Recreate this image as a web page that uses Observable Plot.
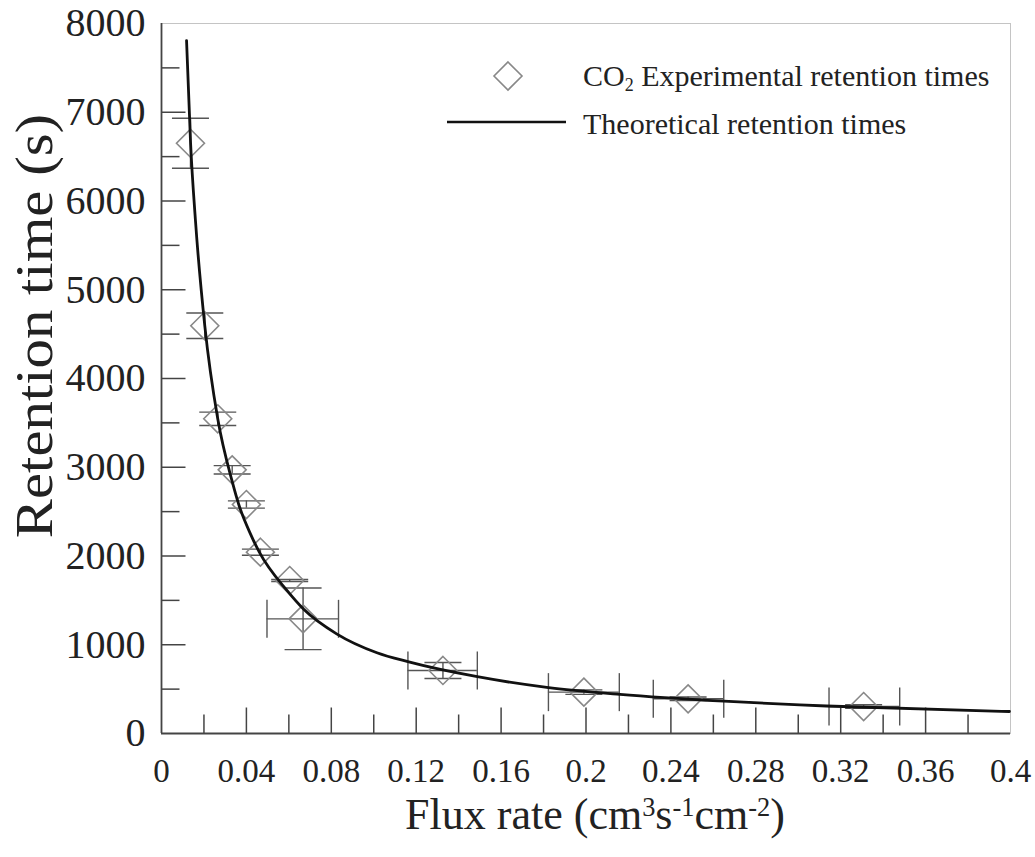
<!DOCTYPE html>
<html>
<head>
<meta charset="utf-8">
<script src="https://cdn.jsdelivr.net/npm/d3@7"></script>
<script src="https://cdn.jsdelivr.net/npm/@observablehq/plot@0.6"></script>
<style>
  body { margin: 0; background: #fff; }
  #wrap { position: relative; width: 1035px; height: 857px; font-family: "Liberation Serif", "Times New Roman", serif; color: #222; }
  #wrap svg { position: absolute; left: 0; top: 0; }
  .ovl { position: absolute; white-space: nowrap; line-height: 1; }
  #xtitle { left: 595px; top: 815px; font-size: 44px; transform: translate(-50%, -50%); }
  #ytitle { left: 35px; top: 326px; font-size: 52px; transform: translate(-50%, -50%) rotate(-90deg) scaleX(1.13); }
  .leg { font-size: 30px; transform: translateY(-50%); }
  sup { font-size: 0.6em; vertical-align: 0.5em; line-height: 0; }
  sub { font-size: 0.6em; vertical-align: -0.3em; line-height: 0; }
</style>
</head>
<body>
<div id="wrap"></div>
<script>
// ---- Experimental points ----
const fluxExp  = [0.01365, 0.0204, 0.0265, 0.0333, 0.0400, 0.0466, 0.0604, 0.0667, 0.1326, 0.1990, 0.2481, 0.3308];
const timeExp  = [6651, 4594, 3546, 2971, 2580, 2043, 1724, 1292, 710, 466, 391, 304];
const timeErr  = [282, 144, 75, 47, 41, 34, 12, 347, 90, 25, 20, 20];
const fluxErrLo = [null, null, null, null, null, null, null, 0.0497, 0.1161, 0.1823, 0.2317, 0.3145];
const fluxErrHi = [null, null, null, null, null, null, null, 0.0834, 0.1488, 0.2157, 0.2649, 0.3478];

// ---- Theoretical curve ----
const fluxTheory = [0.0118, 0.0137, 0.0160, 0.0204, 0.0265, 0.0333, 0.0364, 0.0419, 0.0461, 0.0592, 0.0670, 0.0827, 0.1015, 0.1165, 0.1488, 0.1815, 0.2160, 0.2649, 0.3007, 0.3133, 0.3995];
const timeTheory = [7808, 6651, 5780, 4594, 3546, 2840, 2580, 2250, 2043, 1610, 1400, 1120, 910, 807, 640, 520, 441, 364, 322, 310, 248];

// ---- Ticks ----
const xTickValues = [0, 0.04, 0.08, 0.12, 0.16, 0.2, 0.24, 0.28, 0.32, 0.36, 0.4];
const xTickLabels = ["0", "0.04", "0.08", "0.12", "0.16", "0.2", "0.24", "0.28", "0.32", "0.36", "0.4"];
const xMajorMarks = [0.04, 0.08, 0.12, 0.16, 0.2, 0.24, 0.28, 0.32, 0.36];
const xMinorMarks = [0.02, 0.06, 0.10, 0.14, 0.18, 0.22, 0.26, 0.30, 0.34, 0.38];
const yTickValues = [0, 1000, 2000, 3000, 4000, 5000, 6000, 7000, 8000];
const yTickLabels = ["0", "1000", "2000", "3000", "4000", "5000", "6000", "7000", "8000"];
const yMajorMarks = [1000, 2000, 3000, 4000, 5000, 6000, 7000];
const yMinorMarks = [500, 1500, 2500, 3500, 4500, 5500, 6500, 7500];

// ---- Text ----
const xTitleHTML = "Flux rate (cm<sup>3</sup>s<sup>-1</sup>cm<sup>-2</sup>)";
const yTitleText = "Retention time (s)";
const legendExpHTML = "CO<sub>2</sub> Experimental retention times";
const legendTheoryText = "Theoretical retention times";

// rows built from the arrays
const rows = fluxExp.map((x, i) => ({x, y: timeExp[i], ye: timeErr[i], xlo: fluxErrLo[i], xhi: fluxErrHi[i]}));
const theory = fluxTheory.map((x, i) => ({x, y: timeTheory[i]}));

// custom symbols (pixel-sized caps and inward ticks)
const hCap = {draw(ctx) { ctx.moveTo(-18.5, 0); ctx.lineTo(18.5, 0); }};
const vCap = {draw(ctx) { ctx.moveTo(0, -19); ctx.lineTo(0, 19); }};
const tickUpLong = {draw(ctx) { ctx.moveTo(0, 0); ctx.lineTo(0, -26); }};
const tickUpShort = {draw(ctx) { ctx.moveTo(0, 0); ctx.lineTo(0, -19); }};
const tickRightLong = {draw(ctx) { ctx.moveTo(0, 0); ctx.lineTo(24, 0); }};
const tickRightShort = {draw(ctx) { ctx.moveTo(0, 0); ctx.lineTo(18, 0); }};

const errColor = "#555";
const hasX = d => d.xlo != null;

const plot = Plot.plot({
  width: 1035,
  height: 857,
  marginLeft: 161,
  marginRight: 25,
  marginTop: 23,
  marginBottom: 124,
  style: {fontFamily: "Liberation Serif, serif", color: "#222", background: "transparent"},
  x: {domain: [0, 0.4], label: null},
  y: {domain: [0, 8000], label: null},
  marks: [
    Plot.frame({stroke: "#c4c4c4", strokeWidth: 1}),
    // inward tick marks
    Plot.dot(xMajorMarks, {x: d => d, frameAnchor: "bottom", symbol: tickUpLong, stroke: "#444", strokeWidth: 1.5, fill: "none"}),
    Plot.dot(xMinorMarks, {x: d => d, frameAnchor: "bottom", symbol: tickUpShort, stroke: "#444", strokeWidth: 1.5, fill: "none"}),
    Plot.dot(yMajorMarks, {y: d => d, frameAnchor: "left", symbol: tickRightLong, stroke: "#444", strokeWidth: 1.5, fill: "none"}),
    Plot.dot(yMinorMarks, {y: d => d, frameAnchor: "left", symbol: tickRightShort, stroke: "#444", strokeWidth: 1.5, fill: "none"}),
    // axes labels
    Plot.axisX(xTickValues, {tickSize: 0, tickPadding: 25, fontSize: 33, tickFormat: d => xTickLabels[xTickValues.indexOf(d)], label: null}),
    Plot.axisY(yTickValues, {tickSize: 0, tickPadding: 16, fontSize: 40, tickFormat: d => yTickLabels[yTickValues.indexOf(d)], label: null}),
    // error bars: vertical
    Plot.ruleX(rows, {x: "x", y1: d => d.y - d.ye, y2: d => d.y + d.ye, stroke: errColor, strokeWidth: 1.4}),
    Plot.dot(rows, {x: "x", y: d => d.y - d.ye, symbol: hCap, stroke: errColor, strokeWidth: 1.4, fill: "none"}),
    Plot.dot(rows, {x: "x", y: d => d.y + d.ye, symbol: hCap, stroke: errColor, strokeWidth: 1.4, fill: "none"}),
    // error bars: horizontal
    Plot.ruleY(rows, {filter: hasX, y: "y", x1: "xlo", x2: "xhi", stroke: errColor, strokeWidth: 1.4}),
    Plot.dot(rows, {filter: hasX, x: "xlo", y: "y", symbol: vCap, stroke: errColor, strokeWidth: 1.4, fill: "none"}),
    Plot.dot(rows, {filter: hasX, x: "xhi", y: "y", symbol: vCap, stroke: errColor, strokeWidth: 1.4, fill: "none"}),
    // experimental diamonds
    Plot.dot(rows, {x: "x", y: "y", symbol: "diamond2", r: 12.6, stroke: "#888", strokeWidth: 1.6, fill: "none"}),
    // theoretical curve
    Plot.line(theory, {x: "x", y: "y", curve: "monotone-x", stroke: "#111", strokeWidth: 2.8}),
    // solid left/bottom axis lines
    Plot.ruleX([0], {stroke: "#444", strokeWidth: 1.8}),
    Plot.ruleY([0], {stroke: "#444", strokeWidth: 1.8})
  ]
});

const wrap = document.getElementById("wrap");
wrap.appendChild(plot);

function addDiv(id, cls, html, style) {
  const d = document.createElement("div");
  if (id) d.id = id;
  d.className = "ovl " + (cls || "");
  d.innerHTML = html;
  if (style) Object.assign(d.style, style);
  wrap.appendChild(d);
  return d;
}
addDiv("xtitle", "", xTitleHTML);
addDiv("ytitle", "", yTitleText);

// legend
const legSym = document.createElementNS("http://www.w3.org/2000/svg", "svg");
legSym.setAttribute("width", "34"); legSym.setAttribute("height", "34");
legSym.style.position = "absolute"; legSym.style.left = "491px"; legSym.style.top = "59px";
legSym.innerHTML = '<path d="M17,3 L31,17 L17,31 L3,17 Z" fill="none" stroke="#888" stroke-width="1.6"/>';
wrap.appendChild(legSym);
const legLine = document.createElementNS("http://www.w3.org/2000/svg", "svg");
legLine.setAttribute("width", "122"); legLine.setAttribute("height", "8");
legLine.style.position = "absolute"; legLine.style.left = "446px"; legLine.style.top = "118px";
legLine.innerHTML = '<line x1="1" y1="4" x2="120" y2="4" stroke="#111" stroke-width="2.6"/>';
wrap.appendChild(legLine);
addDiv(null, "leg", legendExpHTML, {left: "583px", top: "76px"});
addDiv(null, "leg", legendTheoryText, {left: "583px", top: "124px"});
</script>
</body>
</html>
